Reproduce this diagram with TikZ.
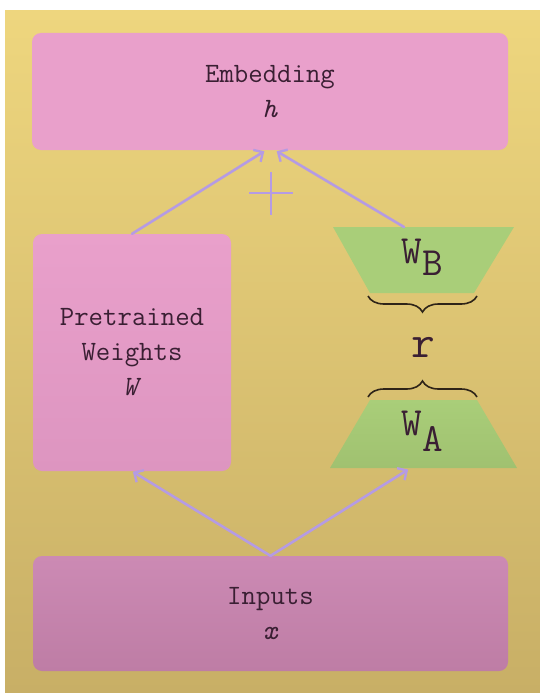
\documentclass[tikz,border=0pt]{standalone}
\usetikzlibrary{arrows.meta,decorations.pathreplacing}
\definecolor{bgtop}{HTML}{EED67E}
\definecolor{bgbot}{HTML}{C8AF66}
\definecolor{pinkA}{HTML}{E9A0CB}
\definecolor{pinkB}{HTML}{DD95C0}
\definecolor{pinkC}{HTML}{CC8AB4}
\definecolor{pinkD}{HTML}{BE7DA5}
\definecolor{greenA}{HTML}{A9CE79}
\definecolor{greenB}{HTML}{A0C170}
\definecolor{lav}{HTML}{B59BE3}
\definecolor{txt}{HTML}{3A1F33}
\definecolor{bracec}{HTML}{2E2418}
\begin{document}
\begin{tikzpicture}[x=1pt,y=-1pt,
  box/.style={rounded corners=9pt, inner sep=0pt, align=center, text=txt,
    font=\ttfamily\fontsize{28}{35}\selectfont},
  arr/.style={draw=lav, line width=2.6pt, line cap=round,
    -{Straight Barb[length=7pt,width=14pt,line width=2.4pt]}},
  bigtxt/.style={inner sep=0pt, text=txt, font=\ttfamily\fontsize{40}{44}\selectfont},
  bracestyle/.style={draw=bracec, line width=1.6pt,
    decorate, decoration={brace, amplitude=16pt}}
]
\useasboundingbox (0,0) rectangle (540,693);
\fill[white] (0,0) rectangle (540,693);
\shade[top color=bgtop, bottom color=bgbot] (5,11) rectangle (540,693);

% boxes
\node[box, fill=pinkA, minimum width=476pt, minimum height=117pt] (emb) at (270,91.5)
  {Embedding\\\textit{h}};
\node[box, top color=pinkA, bottom color=pinkB, minimum width=198pt, minimum height=237pt] (pre) at (132,352.5)
  {Pretrained\\Weights\\\textit{W}};
\node[box, top color=pinkC, bottom color=pinkD, minimum width=475pt, minimum height=115pt] (inp) at (270.5,613.5)
  {Inputs\\\textit{x}};

% trapezoids
\fill[greenA] (333,227) -- (514,227) -- (474,293) -- (370,293) -- cycle;
\shade[top color=greenA, bottom color=greenB] (370,400) -- (477,400) -- (517,468) -- (330,468) -- cycle;
\coordinate (wbtop) at (404,227);
\coordinate (wabot) at (409,469);

\node[bigtxt, anchor=base] (wbl) at (422,263) {W\raisebox{-12pt}{B}};
\node[bigtxt, anchor=base] (wal) at (422,435) {W\raisebox{-16pt}{A}};

% braces and rank
\draw[bracestyle] (477,296) -- (368,296);
\draw[bracestyle] (368,397) -- (477,397);
\node[inner sep=0pt, text=txt, font=\ttfamily\fontsize{46}{50}\selectfont, anchor=base] (rk) at (423,357) {r};

% plus
\draw[lav, line width=1.8pt] (249,193) -- (293,193) (271,172) -- (271,215);

% arrows
\draw[arr, shorten >=2pt] (pre.north) -- ([xshift=-4pt]emb.south);
\draw[arr, shorten >=2pt] (wbtop) -- ([xshift=5pt]emb.south);
\draw[arr, shorten >=1pt] (inp.north) -- (pre.south);
\draw[arr, shorten >=1pt] (inp.north) -- (wabot);
\end{tikzpicture}
\end{document}
